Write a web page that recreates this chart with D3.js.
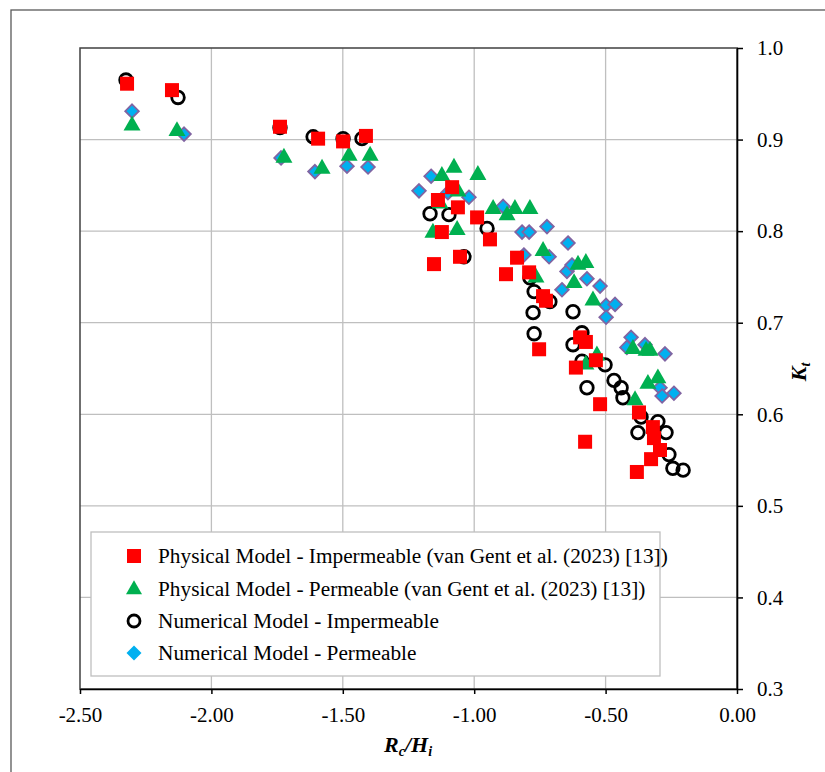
<!DOCTYPE html>
<html>
<head>
<meta charset="utf-8">
<script src="https://cdn.jsdelivr.net/npm/d3@7"></script>
<style>
  html, body { margin: 0; padding: 0; background: #fff; }
  svg { display: block; }
  text { font-family: "Liberation Serif", "Times New Roman", serif; fill: #000; }
</style>
</head>
<body>
<svg id="chart" width="825" height="772"></svg>
<script>
// ---------------- DATA ----------------
const xTicks = [-2.5, -2.0, -1.5, -1.0, -0.5, 0.0];
const yTicks = [0.3, 0.4, 0.5, 0.6, 0.7, 0.8, 0.9, 1.0];

const seriesNames = [
  "Physical Model - Impermeable (van Gent et al. (2023) [13])",
  "Physical Model - Permeable (van Gent et al. (2023) [13])",
  "Numerical Model - Impermeable",
  "Numerical Model - Permeable"
];

// Physical Model - Impermeable (red squares)
const physImpX = [-2.321, -2.150, -1.739, -1.594, -1.499, -1.412, -1.138, -1.084, -1.062, -1.123,
  -0.989, -0.940, -1.153, -1.054, -0.837, -0.879, -0.791, -0.738, -0.727, -0.753,
  -0.597, -0.575, -0.537, -0.613, -0.521, -0.373, -0.578, -0.320, -0.316, -0.293, -0.327, -0.381];
const physImpY = [0.961, 0.954, 0.914, 0.901, 0.898, 0.904, 0.834, 0.848, 0.826, 0.799,
  0.815, 0.791, 0.764, 0.772, 0.771, 0.753, 0.755, 0.729, 0.724, 0.671,
  0.684, 0.679, 0.659, 0.651, 0.611, 0.602, 0.570, 0.586, 0.574, 0.561, 0.551, 0.537];

// Physical Model - Permeable (green triangles)
const physPermX = [-2.302, -2.131, -1.724, -1.579, -1.476, -1.396, -1.123, -1.077, -0.986, -1.062,
  -1.130, -0.928, -0.875, -0.845, -0.788, -1.157, -1.065, -0.738, -0.765, -0.605,
  -0.575, -0.620, -0.548, -0.533, -0.575, -0.396, -0.346, -0.331, -0.339, -0.301, -0.388];
const physPermY = [0.916, 0.910, 0.881, 0.869, 0.883, 0.883, 0.861, 0.870, 0.862, 0.844,
  0.831, 0.825, 0.818, 0.825, 0.825, 0.799, 0.802, 0.779, 0.750, 0.764,
  0.766, 0.744, 0.725, 0.665, 0.655, 0.672, 0.670, 0.670, 0.634, 0.640, 0.616];

// Numerical Model - Impermeable (black open circles)
const numImpX = [-2.325, -2.127, -1.739, -1.613, -1.499, -1.427, -1.168, -1.096, -0.951, -1.039,
  -0.788, -0.772, -0.712, -0.776, -0.624, -0.772, -0.590, -0.624, -0.590, -0.502,
  -0.468, -0.441, -0.434, -0.571, -0.365, -0.301, -0.377, -0.270, -0.259, -0.244, -0.205];
const numImpY = [0.965, 0.946, 0.913, 0.903, 0.901, 0.901, 0.819, 0.818, 0.803, 0.772,
  0.749, 0.734, 0.723, 0.711, 0.712, 0.688, 0.689, 0.676, 0.658, 0.654,
  0.637, 0.629, 0.618, 0.629, 0.597, 0.592, 0.580, 0.580, 0.556, 0.541, 0.539];

// Numerical Model - Permeable (blue diamonds)
const numPermX = [-2.302, -2.104, -1.735, -1.606, -1.484, -1.404, -1.210, -1.164, -1.100, -1.020,
  -0.890, -0.818, -0.791, -0.723, -0.811, -0.715, -0.643, -0.647, -0.628, -0.571,
  -0.521, -0.666, -0.498, -0.464, -0.498, -0.403, -0.419, -0.350, -0.274, -0.293, -0.285, -0.240];
const numPermY = [0.931, 0.906, 0.880, 0.865, 0.871, 0.870, 0.844, 0.860, 0.842, 0.837,
  0.827, 0.799, 0.799, 0.805, 0.774, 0.772, 0.787, 0.756, 0.763, 0.748,
  0.740, 0.736, 0.719, 0.720, 0.706, 0.684, 0.673, 0.676, 0.666, 0.629, 0.620, 0.623];

// ---------------- LAYOUT ----------------
const FONT = "'Liberation Serif', 'Times New Roman', serif";
const svg = d3.select("#chart");
const L = 80, T = 48, R = 737, B = 689;
const x = d3.scaleLinear().domain([-2.5, 0]).range([L, R]);
const y = d3.scaleLinear().domain([0.3, 1.0]).range([B, T]);

// outer chart-area frame
svg.append("rect").attr("x", 11).attr("y", 10).attr("width", 840).attr("height", 800)
  .attr("fill", "none").attr("stroke", "#595959").attr("stroke-width", 1.3);

// gridlines
const grid = svg.append("g");
grid.selectAll("line.v").data(xTicks.slice(1, -1)).enter().append("line")
  .attr("x1", d => x(d)).attr("x2", d => x(d)).attr("y1", T).attr("y2", B)
  .attr("stroke", "#bfbfbf").attr("stroke-width", 1.3);
grid.selectAll("line.h").data(yTicks.slice(1, -1)).enter().append("line")
  .attr("x1", L).attr("x2", R).attr("y1", d => y(d)).attr("y2", d => y(d))
  .attr("stroke", "#bfbfbf").attr("stroke-width", 1.3);

// plot border
svg.append("rect").attr("x", L).attr("y", T).attr("width", R - L).attr("height", B - T)
  .attr("fill", "none").attr("stroke", "#404040").attr("stroke-width", 1.5);

// axes
const xAxis = d3.axisBottom(x).tickValues(xTicks).tickFormat(d3.format(".2f"))
  .tickSize(5).tickPadding(13).tickSizeOuter(0);
const gx = svg.append("g").attr("transform", `translate(0,${B})`).call(xAxis);
const yAxis = d3.axisRight(y).tickValues(yTicks).tickFormat(d3.format(".1f"))
  .tickSize(6).tickPadding(14).tickSizeOuter(0);
const gy = svg.append("g").attr("transform", `translate(${R},0)`).call(yAxis);
[gx, gy].forEach(g => {
  g.attr("font-family", FONT).attr("font-size", 21);
  g.select(".domain").attr("stroke", "#000").attr("stroke-width", 1.6);
  g.selectAll(".tick line").attr("stroke", "#000").attr("stroke-width", 1.5);
  g.selectAll(".tick text").attr("font-size", 21).attr("font-family", FONT).attr("fill", "#000");
});
gx.selectAll(".tick text").text(d => d3.format(".2f")(d).replace("\u2212", "-"));

// axis titles
const xt = svg.append("text").attr("x", 408).attr("y", 752).attr("text-anchor", "middle")
  .attr("font-size", 22).attr("font-weight", "bold").attr("font-style", "italic");
xt.append("tspan").text("R");
xt.append("tspan").attr("font-size", 14).attr("dy", 4).text("c");
xt.append("tspan").attr("dy", -4).text("/H");
xt.append("tspan").attr("font-size", 14).attr("dy", 4).text("i");

const yt = svg.append("text").attr("transform", "translate(806,372) rotate(-90)")
  .attr("text-anchor", "middle")
  .attr("font-size", 22).attr("font-weight", "bold").attr("font-style", "italic");
yt.append("tspan").text("K");
yt.append("tspan").attr("font-size", 14).attr("dy", 4).text("t");

// ---------------- MARKERS ----------------
const sq = 14;
const triPath = (s) => { const h = s * 0.88; return `M0,${-h * 0.62}L${s / 2},${h * 0.38}L${-s / 2},${h * 0.38}Z`; };
const diaPath = (r) => `M0,${-r}L${r},0L0,${r}L${-r},0Z`;

function drawSeries(xs, ys, kind) {
  const pts = xs.map((v, i) => [v, ys[i]]);
  const g = svg.append("g");
  const sel = g.selectAll("g.pt").data(pts).enter().append("g")
    .attr("transform", d => `translate(${x(d[0])},${y(d[1])})`);
  marker(sel, kind);
}
function marker(sel, kind) {
  if (kind === "square") {
    sel.append("rect").attr("x", -sq / 2).attr("y", -sq / 2).attr("width", sq).attr("height", sq)
      .attr("fill", "#ff0000");
  } else if (kind === "triangle") {
    sel.append("path").attr("d", triPath(17)).attr("fill", "#00b050");
  } else if (kind === "circle") {
    sel.append("circle").attr("r", 6.3).attr("fill", "none").attr("stroke", "#000").attr("stroke-width", 2.8);
  } else {
    sel.append("path").attr("d", diaPath(6.8)).attr("fill", "#00b0f0")
      .attr("stroke", "#8064a2").attr("stroke-width", 1.8);
  }
}

drawSeries(numPermX, numPermY, "diamond");
drawSeries(numImpX, numImpY, "circle");
drawSeries(physPermX, physPermY, "triangle");
drawSeries(physImpX, physImpY, "square");

// ---------------- LEGEND ----------------
const lg = svg.append("g");
lg.append("rect").attr("x", 91).attr("y", 532).attr("width", 569).attr("height", 144)
  .attr("fill", "#fff").attr("stroke", "#bfbfbf").attr("stroke-width", 1.3);
const kinds = ["square", "triangle", "circle", "diamond"];
const rowY = [556, 589, 621, 653];
seriesNames.forEach((name, i) => {
  const m = lg.append("g").attr("transform", `translate(134,${rowY[i]})`);
  if (kinds[i] === "square") {
    m.append("rect").attr("x", -7).attr("y", -7).attr("width", 14).attr("height", 14).attr("fill", "#ff0000");
  } else if (kinds[i] === "triangle") {
    m.append("path").attr("d", triPath(16)).attr("fill", "#00b050");
  } else if (kinds[i] === "circle") {
    m.append("circle").attr("r", 6).attr("fill", "none").attr("stroke", "#000").attr("stroke-width", 2.8);
  } else {
    m.append("path").attr("d", diaPath(7.5)).attr("fill", "#00b0f0");
  }
  lg.append("text").attr("x", 158).attr("y", rowY[i]).attr("dy", "0.35em")
    .attr("font-size", 21.3).text(name.replace(/ - /g, "\u00a0-\u00a0"));
});
</script>
</body>
</html>
